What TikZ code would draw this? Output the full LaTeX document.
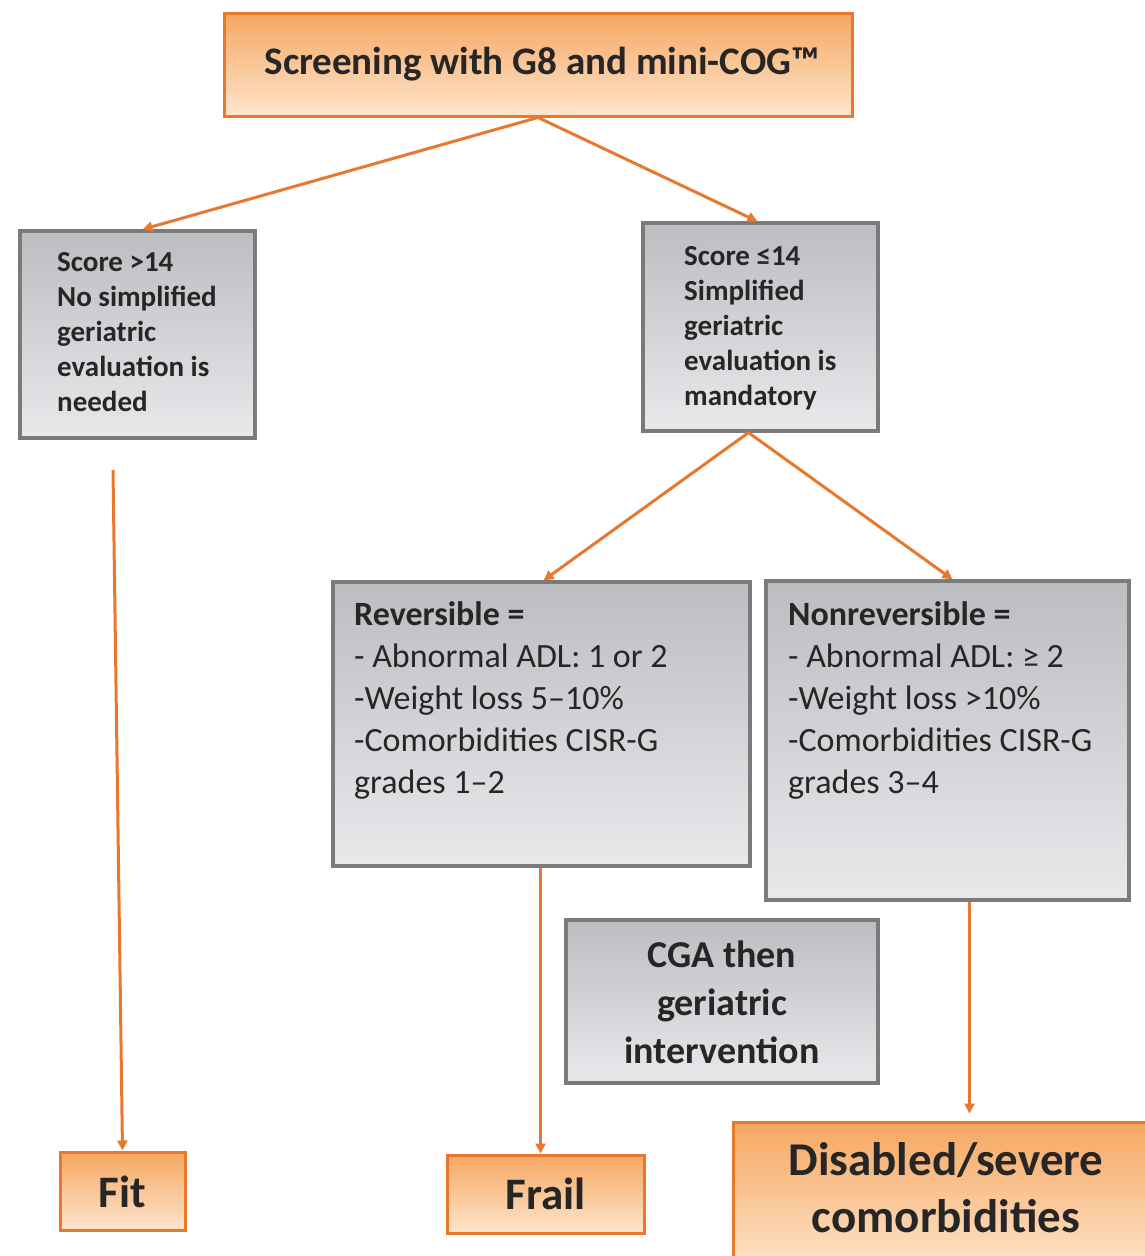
\documentclass[tikz,border=0pt]{standalone}
\usepackage{fontspec}
\setmainfont{Carlito}
\usetikzlibrary{arrows.meta}
\definecolor{orline}{HTML}{E8782E}
\definecolor{ortop}{HTML}{F6A762}
\definecolor{orbot}{HTML}{FDE5CC}
\definecolor{grline}{HTML}{7A7A7A}
\definecolor{grtop}{HTML}{BCBDC1}
\definecolor{grbot}{HTML}{E8E9EB}
\definecolor{txt}{HTML}{262626}
\tikzset{
  orbox/.style={draw=orline, line width=3pt, top color=ortop, bottom color=orbot, rectangle, inner sep=0pt},
  grbox/.style={draw=grline, line width=3.2pt, top color=grtop, bottom color=grbot, rectangle, inner sep=0pt},
  lbl/.style={text=txt, inner sep=0pt, align=left},
  clbl/.style={text=txt, inner sep=0pt, align=center},
  arr/.style={draw=orline, line width=3pt, -{Triangle[length=10pt,width=10pt]}}
}
\begin{document}
\begin{tikzpicture}[x=1pt,y=-1pt]
\useasboundingbox (0,0) rectangle (1145,1256);
% boxes
\node[orbox, minimum width=628pt, minimum height=103pt] (top) at (538,64.5) {};
\node[clbl, font=\bfseries\fontsize{39pt}{46pt}\selectfont] (toptxt) at (542,64) {Screening with G8 and mini-COG™};

\node[grbox, minimum width=235pt, minimum height=207pt] (left) at (137.5,334.5) {};
\node[lbl, anchor=north west, font=\bfseries\fontsize{29pt}{35pt}\selectfont] (lefttxt) at (57,252) {Score >14\\No simplified\\geriatric\\evaluation is\\needed};

\node[grbox, minimum width=235pt, minimum height=208pt] (right) at (760.5,327) {};
\node[lbl, anchor=north west, font=\bfseries\fontsize{29pt}{35pt}\selectfont] (righttxt) at (684,246) {Score ≤14\\Simplified\\geriatric\\evaluation is\\mandatory};

\node[grbox, minimum width=417pt, minimum height=284pt] (rev) at (541.5,724) {};
\node[lbl, anchor=north west, font=\fontsize{34pt}{42pt}\selectfont] (revtxt) at (354,601) {\textbf{Reversible =}\\- Abnormal ADL: 1 or 2\\-Weight loss 5–10\%\\-Comorbidities CISR-G\\grades 1–2};

\node[grbox, minimum width=363pt, minimum height=319pt] (nonrev) at (947.5,740.5) {};
\node[lbl, anchor=north west, font=\fontsize{34pt}{42pt}\selectfont] (nonrevtxt) at (788,601) {\textbf{Nonreversible =}\\- Abnormal ADL: ≥ 2\\-Weight loss >10\%\\-Comorbidities CISR-G\\grades 3–4};

\node[grbox, minimum width=312pt, minimum height=163pt] (cga) at (722,1001.5) {};
\node[clbl, font=\bfseries\fontsize{38pt}{48pt}\selectfont] (cgatxt) at (722,1002) {CGA then\\geriatric\\intervention};

\node[orbox, minimum width=125pt, minimum height=78pt] (fit) at (122.5,1191) {};
\node[clbl, font=\bfseries\fontsize{45pt}{54pt}\selectfont] (fittxt) at (122.5,1192) {Fit};

\node[orbox, minimum width=197pt, minimum height=78pt] (frail) at (545.5,1194) {};
\node[clbl, font=\bfseries\fontsize{45pt}{54pt}\selectfont] (frailtxt) at (545.5,1194) {Frail};

\node[orbox, minimum width=425pt, minimum height=150pt] (dis) at (945.5,1197) {};
\node[clbl, font=\bfseries\fontsize{47pt}{57pt}\selectfont] (distxt) at (946,1188) {Disabled/severe\\comorbidities};

% connectors
\draw[arr] (top.south) -- ([xshift=5pt]left.north);
\draw[arr] (top.south) -- ([xshift=-3pt]right.north);
\draw[arr] ([xshift=-12pt]right.south) -- ([xshift=2pt]rev.north);
\draw[arr] ([xshift=-12pt]right.south) -- ([xshift=5pt]nonrev.north);
\coordinate (fitstart) at (113,470);
\draw[arr] (fitstart) -- (fit.north);
\draw[arr] ([xshift=-1pt]rev.south) -- ([xshift=-1pt]rev.south |- frail.north);
\draw[arr, shorten >=7pt] ([xshift=22pt]nonrev.south) -- ([xshift=22pt]nonrev.south |- dis.north);
\end{tikzpicture}
\end{document}
